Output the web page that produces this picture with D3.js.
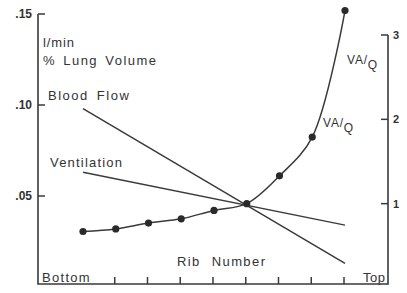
<!DOCTYPE html>
<html>
<head>
<meta charset="utf-8">
<script src="https://cdn.jsdelivr.net/npm/d3@7"></script>
<style>
  body { margin: 0; background: #fff; }
  text { font-family: "Liberation Sans", Arial, sans-serif; fill: #333; }
</style>
</head>
<body>
<div id="chart"></div>
<script>
// rib positions, bottom -> top
var ribs = [1, 2, 3, 4, 5, 6, 7, 8, 9];
var tickRibs = [2, 3, 4, 5, 6, 7, 8, 9];
// VA/Q ratio at each rib (right axis)
var vaq = [0.67, 0.70, 0.77, 0.82, 0.92, 1.0, 1.33, 1.79, 3.29];
// straight lines, l/min % lung volume (left axis)
var lineRibs = [1, 9];
var bloodFlow = [0.098, 0.013];
var ventilation = [0.063, 0.034];
var leftTicks = [0.05, 0.10, 0.15];
var leftLabels = [".05", ".10", ".15"];
var rightTicks = [1, 2, 3];

(function () {
    var width = 407, height = 293;
    var ink = "#3a3a3a";

    var svg = d3.select("#chart")
        .append("svg")
        .attr("width", width)
        .attr("height", height);

    var x = d3.scaleLinear().domain([1, 9]).range([83, 345]);
    var yL = d3.scaleLinear().domain([0, 0.15]).range([287, 14]);
    var yR = d3.scaleLinear().domain([0, 3]).range([288, 35]);

    var frame = { left: 38, right: 388, bottom: 284 };

    // axes frame
    svg.append("path")
        .attr("d", "M" + frame.left + "," + yL(0.15) + "V" + frame.bottom + "H" + frame.right + "V" + yR(3))
        .attr("fill", "none")
        .attr("stroke", ink)
        .attr("stroke-width", 1.6);

    // left ticks
    svg.selectAll(".ltick")
        .data(leftTicks)
        .enter().append("line")
        .attr("x1", frame.left).attr("x2", frame.left + 7)
        .attr("y1", d => yL(d)).attr("y2", d => yL(d))
        .attr("stroke", ink).attr("stroke-width", 1.5);

    svg.selectAll(".llab")
        .data(leftTicks)
        .enter().append("text")
        .attr("x", 32)
        .attr("y", d => yL(d) + 4)
        .attr("text-anchor", "end")
        .style("font-size", "12px")
        .style("font-weight", "bold")
        .text((d, i) => leftLabels[i]);

    // right ticks
    svg.selectAll(".rtick")
        .data(rightTicks)
        .enter().append("line")
        .attr("x1", frame.right - 7).attr("x2", frame.right)
        .attr("y1", d => yR(d)).attr("y2", d => yR(d))
        .attr("stroke", ink).attr("stroke-width", 1.5);

    svg.selectAll(".rlab")
        .data(rightTicks)
        .enter().append("text")
        .attr("x", 393)
        .attr("y", d => yR(d) + 4)
        .style("font-size", "11px")
        .style("font-weight", "bold")
        .text(d => d);

    // bottom ticks
    svg.selectAll(".btick")
        .data(tickRibs)
        .enter().append("line")
        .attr("x1", d => x(d) - 1).attr("x2", d => x(d) - 1)
        .attr("y1", frame.bottom).attr("y2", frame.bottom - 7)
        .attr("stroke", ink).attr("stroke-width", 1.5);

    // straight lines
    var flat = d3.line()
        .x(d => x(d[0]))
        .y(d => yL(d[1]));

    [bloodFlow, ventilation].forEach(function (vals) {
        svg.append("path")
            .datum(lineRibs.map((r, i) => [r, vals[i]]))
            .attr("d", flat)
            .attr("fill", "none")
            .attr("stroke", ink)
            .attr("stroke-width", 1.5);
    });

    // VA/Q curve
    var curve = d3.line()
        .x(d => x(d[0]))
        .y(d => yR(d[1]))
        .curve(d3.curveCatmullRom);

    var pts = ribs.map((r, i) => [r, vaq[i]]);
    svg.append("path")
        .datum(pts)
        .attr("d", curve)
        .attr("fill", "none")
        .attr("stroke", ink)
        .attr("stroke-width", 1.5);

    svg.selectAll(".dot")
        .data(pts)
        .enter().append("circle")
        .attr("cx", d => x(d[0]))
        .attr("cy", d => yR(d[1]))
        .attr("r", 3.6)
        .attr("fill", "#2a2a2a");

    // labels
    function label(txt, lx, ly, sp, ws) {
        return svg.append("text")
            .attr("x", lx).attr("y", ly)
            .style("font-size", "13px")
            .style("letter-spacing", (sp || 0.9) + "px")
            .style("word-spacing", (ws || 0) + "px")
            .text(txt);
    }
    label("l/min", 43, 47);
    label("% Lung Volume", 43, 65, 1.5, 2);
    label("Blood Flow", 48, 100, 1.5, 3);
    label("Ventilation", 50, 167, 1.2);
    label("Rib Number", 177, 266, 1.4, 6);
    label("Bottom", 42, 282, 1.3);
    label("Top", 363, 282, 0.5);

    function vaqLabel(lx, ly) {
        var t = svg.append("text")
            .attr("x", lx).attr("y", ly)
            .style("font-size", "12px")
            .style("letter-spacing", "0.8px");
        t.append("tspan").text("VA/");
        t.append("tspan").attr("dy", 5).text("Q");
    }
    vaqLabel(347, 64);
    vaqLabel(323, 127);
})()
</script>
</body>
</html>
